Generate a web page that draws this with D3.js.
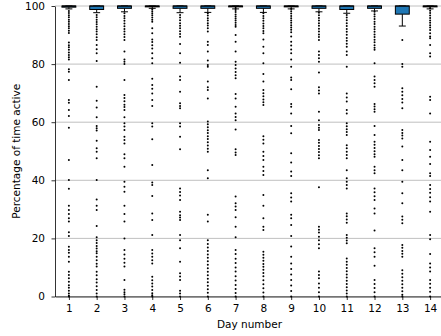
<!DOCTYPE html>
<html>
<head>
<meta charset="utf-8">
<script src="https://cdn.jsdelivr.net/npm/d3@7"></script>
<style>
  body { margin: 0; background: #fff; }
  text { font-family: "DejaVu Sans", sans-serif; }
</style>
</head>
<body>
<div id="chart"></div>
<script>
// box statistics per day
const days = [1, 2, 3, 4, 5, 6, 7, 8, 9, 10, 11, 12, 13, 14];
const q1 = [99.6, 98.8, 99.2, 99.7, 99.2, 99.2, 99.7, 99.2, 99.7, 99.2, 98.8, 99.2, 97.2, 99.7];
const median = [100, 100, 100, 100, 100, 100, 100, 100, 100, 100, 100, 100, 100, 100];
const q3 = [100, 100, 100, 100, 100, 100, 100, 100, 100, 100, 100, 100, 100, 100];
const whiskerLow = [99.0, 97.7, 98.0, 99.2, 97.7, 97.8, 99.0, 97.8, 99.0, 98.0, 97.5, 98.3, 93.1, 99.0];
const whiskerHigh = [100, 100, 100, 100, 100, 100, 100, 100, 100, 100, 100, 100, 100, 100];
const yTicks = [0, 20, 40, 60, 80, 100];

// outliers per day
const day1Out = [98.3, 97.6, 96.8, 96.1, 95.3, 94.6, 93.8, 93.0, 92.3, 91.5, 90.7, 87.4, 86.5, 85.8, 84.9, 84.0, 83.1, 82.4, 81.6,
  78.2, 77.4, 74.5, 67.6, 66.7, 64.2, 62.1, 58.1, 47.0, 40.1, 37.1, 31.2, 29.8, 28.4, 26.9, 25.8, 22.1, 20.8, 17.1, 16.0, 15.1,
  13.7, 12.0, 8.5, 7.4, 6.3, 5.1, 3.9, 3.0, 2.0, 1.0, 0.3, 0];
const day2Out = [96.9, 96.1, 95.3, 94.5, 93.7, 92.9, 92.0, 91.2, 90.3, 89.2, 88.3, 86.6, 85.1, 83.7, 81.1, 72.2, 67.4, 65.1, 61.7,
  58.7, 57.9, 57.1, 53.6, 51.0, 49.8, 47.6, 40.1, 33.4, 31.2, 29.8, 24.3, 20.4, 19.4, 18.4, 17.4, 16.5, 15.6, 14.9, 13.7, 12.5,
  11.3, 10.3, 8.5, 7.3, 5.9, 4.8, 3.5, 2.2, 1.0, 0];
const day3Out = [97.5, 96.6, 95.8, 94.9, 94.0, 93.0, 92.1, 91.2, 90.3, 89.3, 88.3, 84.3, 81.6, 80.8, 80.0, 74.5, 69.4, 68.3, 67.2,
  66.0, 65.2, 64.2, 61.7, 59.6, 58.5, 57.3, 55.0, 53.9, 52.7, 49.0, 47.6, 44.7, 39.5, 37.8, 36.1, 31.2, 28.4, 25.8, 20.0, 16.0,
  14.5, 13.0, 11.6, 10.3, 5.7, 2.3, 1.5, 0.8, 0];
const day4Out = [98.9, 98.2, 97.5, 96.8, 96.0, 95.3, 94.6, 92.3, 90.6, 88.5, 87.6, 86.5, 85.4, 83.7, 82.0, 80.3, 75.0, 72.8, 71.5,
  69.9, 67.6, 65.6, 59.6, 58.5, 54.1, 45.3, 39.2, 38.4, 34.6, 28.6, 26.3, 21.2, 16.0, 14.8, 13.7, 12.5, 11.4, 6.8, 5.6, 4.5,
  3.4, 2.2, 1.1, 0.4, 0];
const day5Out = [96.9, 96.0, 95.1, 94.1, 93.2, 92.3, 91.3, 90.4, 89.4, 86.9, 83.7, 80.5, 75.7, 74.5, 70.5, 66.5, 65.6, 64.8, 59.6,
  58.5, 55.0, 50.7, 37.2, 36.0, 34.8, 33.2, 29.2, 28.0, 27.2, 26.3, 21.2, 19.4, 16.6, 12.0, 8.0, 6.9, 5.7, 2.0, 1.0, 0];
const day6Out = [97.5, 96.7, 95.8, 95.0, 94.1, 93.3, 92.3, 91.2, 87.7, 86.6, 84.3, 81.2, 79.7, 79.1, 74.0, 72.0, 71.1, 68.2, 60.2,
  59.3, 58.3, 57.2, 56.3, 55.2, 54.2, 53.1, 52.0, 50.9, 49.8, 43.5, 40.7, 28.1, 25.8, 19.4, 18.1, 16.9, 15.7, 14.5, 13.3, 12.1,
  10.9, 9.7, 8.5, 7.3, 6.1, 4.9, 3.7, 2.5, 1.3, 0];
const day7Out = [99.3, 98.6, 97.9, 97.1, 96.4, 95.7, 95.0, 94.2, 93.5, 92.9, 90.0, 87.7, 84.3, 80.8, 79.7, 78.5, 77.3, 76.2, 75.1,
  69.7, 68.2, 65.3, 63.0, 61.8, 60.7, 57.5, 50.7, 49.6, 48.7, 34.4, 32.1, 31.0, 29.8, 27.3, 24.0, 20.4, 16.0, 14.6, 13.0, 11.5,
  10.0, 8.6, 7.0, 5.5, 4.0, 2.6, 1.2, 0];
const day8Out = [97.5, 96.6, 95.8, 94.9, 94.0, 93.1, 92.3, 91.4, 90.6, 88.5, 86.0, 83.7, 80.3, 76.6, 74.0, 71.1, 70.0, 68.9, 67.8,
  66.9, 65.9, 55.2, 54.0, 52.7, 49.8, 48.4, 47.0, 44.7, 43.2, 41.8, 34.9, 31.2, 26.9, 24.0, 22.9, 15.4, 14.4, 13.3, 12.3, 11.2,
  10.2, 9.2, 8.1, 7.0, 5.6, 4.2, 2.8, 1.4, 0];
const day9Out = [99.0, 98.2, 97.4, 96.6, 95.8, 95.0, 94.2, 93.4, 92.6, 91.8, 91.0, 89.5, 87.7, 86.4, 85.0, 83.7, 81.6, 79.1, 75.4,
  74.5, 71.3, 66.3, 65.3, 63.0, 58.7, 56.2, 49.3, 46.1, 43.0, 41.5, 35.5, 34.1, 32.7, 28.1, 26.9, 24.6, 20.8, 17.2, 13.7, 11.4,
  9.5, 7.6, 5.7, 3.8, 1.9, 0];
const day10Out = [97.7, 96.8, 95.9, 95.0, 94.1, 93.2, 92.2, 91.2, 90.2, 89.3, 88.3, 84.3, 83.1, 82.0, 80.8, 77.1, 72.0, 70.9, 69.9,
  63.6, 60.7, 59.0, 58.1, 57.3, 53.9, 52.9, 51.8, 50.8, 49.7, 48.6, 47.6, 37.6, 24.0, 23.0, 22.0, 20.6, 19.4, 18.0, 16.6, 8.6,
  7.4, 6.3, 4.5, 3.0, 1.5, 0];
const day11Out = [96.9, 96.0, 95.1, 94.1, 93.1, 92.1, 91.1, 90.1, 89.0, 88.0, 87.0, 86.0, 84.3, 83.1, 79.1, 69.9, 68.5, 67.1, 64.2,
  63.0, 59.6, 58.6, 57.6, 56.6, 55.6, 52.1, 51.0, 49.8, 48.7, 47.6, 43.5, 40.7, 39.5, 38.4, 37.2, 28.6, 27.6, 26.5, 25.4, 21.2,
  20.2, 19.3, 18.3, 13.1, 12.0, 10.9, 9.8, 8.7, 7.6, 6.5, 5.4, 4.3, 3.2, 2.1, 1.0, 0];
const day12Out = [98.0, 97.2, 96.4, 95.5, 94.6, 93.8, 92.9, 92.0, 91.1, 90.2, 89.3, 88.4, 87.5, 86.5, 85.6, 84.9, 80.3, 75.7, 74.5,
  73.4, 72.2, 66.3, 65.4, 64.5, 63.6, 58.7, 55.6, 53.3, 52.2, 51.1, 50.0, 49.0, 48.1, 44.7, 43.5, 42.4, 37.2, 35.9, 34.5, 33.2,
  30.3, 28.6, 22.7, 16.6, 15.2, 13.7, 10.6, 5.7, 4.3, 2.9, 1.5, 0];
const day13Out = [88.3, 80.0, 79.1, 71.7, 70.5, 69.3, 68.0, 66.8, 64.8, 57.3, 56.3, 55.4, 54.4, 51.6, 47.0, 43.5, 39.5, 35.5, 32.1,
  27.5, 26.4, 25.2, 17.7, 16.8, 15.7, 14.7, 13.7, 9.0, 7.8, 6.6, 5.4, 4.2, 3.0, 1.8, 0.6, 0];
const day14Out = [99.2, 98.4, 97.6, 96.7, 95.9, 95.0, 94.2, 93.4, 92.6, 91.7, 90.6, 89.5, 88.9, 86.6, 83.7, 82.6, 68.8, 67.6, 63.0,
  53.3, 50.4, 48.1, 45.6, 42.4, 41.5, 38.4, 37.0, 35.7, 34.2, 32.7, 29.2, 21.2, 19.7, 14.6, 11.4, 10.0, 8.6, 5.7, 4.4, 3.0,
  1.6, 0];
const outliers = [day1Out, day2Out, day3Out, day4Out, day5Out, day6Out, day7Out,
  day8Out, day9Out, day10Out, day11Out, day12Out, day13Out, day14Out];

const width = 441, height = 336;
const margin = { top: 6, right: -3, bottom: 39.5, left: 55 };

const svg = d3.select('#chart').append('svg')
  .attr('width', width)
  .attr('height', height);

const x = d3.scaleLinear().domain([0.5, 14.5]).range([margin.left, width - margin.right]);
const y = d3.scaleLinear().domain([0, 100]).range([height - margin.bottom, margin.top]);

// horizontal grid
svg.append('g')
  .selectAll('line')
  .data(yTicks)
  .join('line')
  .attr('x1', margin.left).attr('x2', width)
  .attr('y1', d => y(d)).attr('y2', d => y(d))
  .attr('stroke', '#b0b0b0')
  .attr('stroke-width', 0.8);

const boxW = x(1.25) - x(0.75);
const boxes = days.map((d, i) => ({
  day: d, q1: q1[i], q3: q3[i], med: median[i], lo: whiskerLow[i], hi: whiskerHigh[i], out: outliers[i]
}));

// outlier dots
svg.append('g')
  .selectAll('g')
  .data(boxes)
  .join('g')
  .selectAll('circle')
  .data(b => b.out.map(v => ({ day: b.day, v })))
  .join('circle')
  .attr('cx', d => x(d.day))
  .attr('cy', d => y(d.v))
  .attr('r', 1)
  .attr('fill', '#000');

const g = svg.append('g')
  .selectAll('g')
  .data(boxes)
  .join('g');

// whiskers
g.append('line')
  .attr('x1', d => x(d.day)).attr('x2', d => x(d.day))
  .attr('y1', d => y(d.q1)).attr('y2', d => y(d.lo))
  .attr('stroke', '#000').attr('stroke-width', 1);
g.append('line')
  .attr('x1', d => x(d.day) - boxW / 4).attr('x2', d => x(d.day) + boxW / 4)
  .attr('y1', d => y(d.lo)).attr('y2', d => y(d.lo))
  .attr('stroke', '#000').attr('stroke-width', 1);
g.append('line')
  .attr('x1', d => x(d.day) - boxW / 4).attr('x2', d => x(d.day) + boxW / 4)
  .attr('y1', d => y(d.hi)).attr('y2', d => y(d.hi))
  .attr('stroke', '#000').attr('stroke-width', 1);

// boxes
g.append('rect')
  .attr('x', d => x(d.day) - boxW / 2)
  .attr('width', boxW)
  .attr('y', d => y(d.q3))
  .attr('height', d => y(d.q1) - y(d.q3))
  .attr('fill', '#1f77b4')
  .attr('stroke', '#000')
  .attr('stroke-width', 1);

// median
g.append('line')
  .attr('x1', d => x(d.day) - boxW / 2).attr('x2', d => x(d.day) + boxW / 2)
  .attr('y1', d => y(d.med)).attr('y2', d => y(d.med))
  .attr('stroke', '#000').attr('stroke-width', 1);

// axes
const yAxis = d3.axisLeft(y).tickValues(yTicks).tickSize(3.5).tickPadding(6.5).tickSizeOuter(0);
const xAxis = d3.axisBottom(x).tickValues(days).tickSize(3.5).tickPadding(4.5).tickSizeOuter(0);

const ya = svg.append('g')
  .attr('transform', `translate(${margin.left},0)`)
  .call(yAxis);
const xa = svg.append('g')
  .attr('transform', `translate(0,${height - margin.bottom})`)
  .call(xAxis);

[ya, xa].forEach(a => {
  a.selectAll('text').attr('font-size', 10.5).attr('fill', '#000')
    .attr('font-family', '"DejaVu Sans", sans-serif');
  a.selectAll('line').attr('stroke', '#000').attr('stroke-width', 0.8);
  a.select('.domain').attr('stroke', '#000').attr('stroke-width', 0.8);
});

svg.append('text')
  .attr('x', (margin.left + width - margin.right) / 2)
  .attr('y', 328)
  .attr('text-anchor', 'middle')
  .attr('font-size', 10.5)
  .text('Day number');

svg.append('text')
  .attr('transform', `translate(20,${(y(0) + y(100)) / 2}) rotate(-90)`)
  .attr('text-anchor', 'middle')
  .attr('font-size', 10.5)
  .text('Percentage of time active');
</script>
</body>
</html>
